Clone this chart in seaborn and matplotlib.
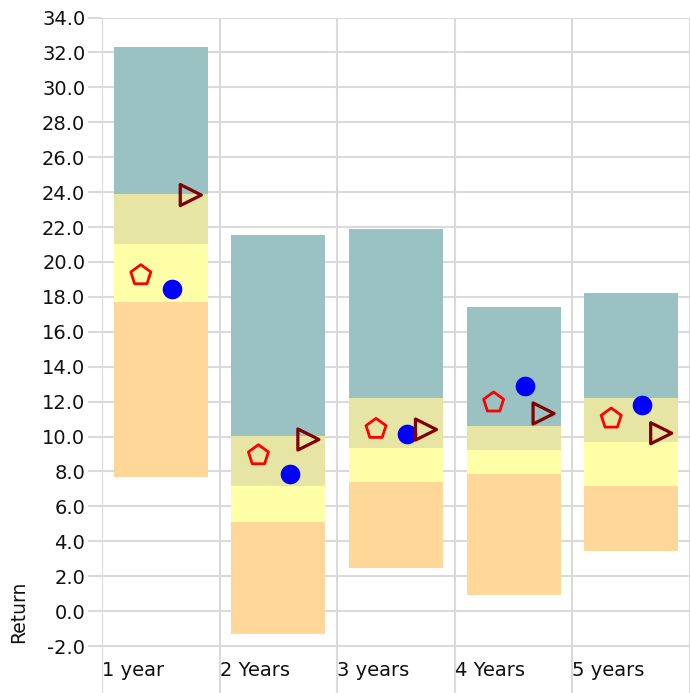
import numpy as np
import pandas as pd
import matplotlib
matplotlib.use("Agg")
import matplotlib.pyplot as plt
from matplotlib.ticker import FormatStrFormatter
import seaborn as sns

# quartile bands per horizon
categories = ["1 year", "2 Years", "3 years", "4 Years", "5 years"]
pct_5 = [7.67, -1.29, 2.49, 0.91, 3.43]
pct_25 = [17.7, 5.09, 7.38, 7.84, 7.15]
pct_50 = [21.0, 7.17, 9.33, 9.21, 9.67]
pct_75 = [23.9, 10.02, 12.2, 10.59, 12.2]
pct_95 = [32.3, 21.54, 21.86, 17.41, 18.21]

# point series
pentagon_vals = [19.24, 8.93, 10.44, 11.95, 11.03]
circle_vals = [18.44, 7.85, 10.17, 12.92, 11.78]
triangle_vals = [23.83, 9.83, 10.4, 11.32, 10.19]

y_ticks = np.arange(-2, 35, 2)

band_colors = ["#FFD899", "#FFFFA8", "#E6E5A3", "#9AC2C2"]
grid_color = "#dadada"

sns.set_style("whitegrid")
plt.rcParams["font.family"] = ["DejaVu Sans"]

W, H = 690, 693
fig = plt.figure(figsize=(W / 100, H / 100), dpi=100)
top_px = 17.5
px_per_unit = 17.46
ax = fig.add_axes([102 / W, 0, 588 / W, (H - top_px) / H])

df = pd.DataFrame({"horizon": categories, "p5": pct_5, "p25": pct_25,
                   "p50": pct_50, "p75": pct_75, "p95": pct_95})
edges = ["p5", "p25", "p50", "p75", "p95"]
for i, color in enumerate(band_colors):
    lo, hi = df[edges[i]], df[edges[i + 1]]
    sns.barplot(x=df["horizon"], y=hi - lo, bottom=lo, order=categories,
                color=color, width=0.8, linewidth=0, saturation=1, ax=ax)

pos = np.arange(len(categories))
sns.scatterplot(x=pos - 0.17, y=pentagon_vals, marker="p", s=230,
                facecolor="none", edgecolor="red", linewidth=2.0, ax=ax, zorder=5)
sns.scatterplot(x=pos + 0.095, y=circle_vals, marker="o", s=200,
                color="blue", linewidth=0, ax=ax, zorder=5)
sns.scatterplot(x=pos + 0.255, y=triangle_vals, marker=">", s=230,
                facecolor="none", edgecolor="#7F0000", linewidth=2.3, ax=ax, zorder=5)

ax.set_xlim(-0.5, len(categories) - 0.5)
ax.set_ylim(34 - (H - top_px) / px_per_unit, 34)
ax.set_yticks(y_ticks)
ax.yaxis.set_major_formatter(FormatStrFormatter("%.1f"))
ax.set_xticks(np.arange(-0.5, len(categories), 1))
ax.set_xticklabels(categories + [""], ha="left")

ax.grid(True, color=grid_color, linewidth=1.5)
ax.set_axisbelow(True)
for s in ax.spines.values():
    s.set_visible(False)
ax.tick_params(axis="y", length=10, width=1.5, color=grid_color, pad=2,
               labelsize=14, labelcolor="#111111", left=True)
ax.tick_params(axis="x", length=0, pad=-23, labelsize=14, labelcolor="#111111")

ax.set_xlabel("")
ax.set_ylabel("Return", fontsize=13.5, color="#111111")
ax.yaxis.set_label_coords(-0.125, 0.12)

fig.savefig("out.png", dpi=100)
